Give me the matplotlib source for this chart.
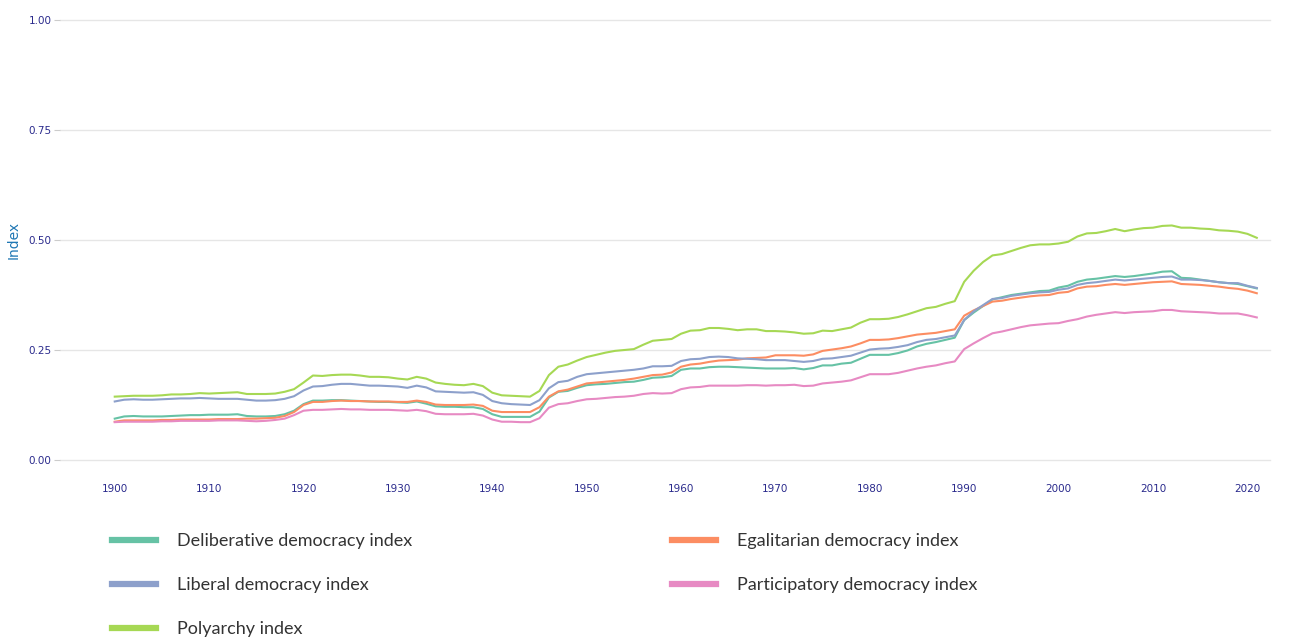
import numpy as np
import matplotlib
matplotlib.use("Agg")
import matplotlib.pyplot as plt
from matplotlib.lines import Line2D

# Años (1900-2021)
anios = list(range(1900, 2022))

# Valores, una lista por índice
deliberativo = [
    0.094, 0.099, 0.100, 0.099, 0.099, 0.099, 0.100, 0.101, 0.102, 0.102,
    0.103, 0.103, 0.103, 0.104, 0.100, 0.099, 0.099, 0.100, 0.104, 0.112,
    0.127, 0.135, 0.135, 0.136, 0.136, 0.135, 0.134, 0.133, 0.132, 0.132,
    0.131, 0.130, 0.133, 0.128, 0.122, 0.121, 0.121, 0.120, 0.120, 0.116,
    0.104, 0.098, 0.098, 0.098, 0.098, 0.110, 0.142, 0.155, 0.157, 0.164,
    0.170, 0.172, 0.173, 0.175, 0.177, 0.178, 0.182, 0.187, 0.188, 0.191,
    0.205, 0.208, 0.208, 0.211, 0.212, 0.212, 0.211, 0.210, 0.209, 0.208,
    0.208, 0.208, 0.209, 0.206, 0.209, 0.215, 0.215, 0.219, 0.221, 0.230,
    0.239, 0.239, 0.239, 0.243, 0.249, 0.258, 0.264, 0.268, 0.273, 0.278,
    0.318, 0.335, 0.350, 0.365, 0.370, 0.375, 0.378, 0.381, 0.384, 0.385,
    0.392, 0.396, 0.405, 0.410, 0.412, 0.415, 0.418, 0.416, 0.418, 0.421,
    0.424, 0.428, 0.429, 0.414, 0.413, 0.410, 0.407, 0.404, 0.402, 0.400,
    0.395, 0.390,
]

igualitario = [
    0.087, 0.090, 0.090, 0.090, 0.090, 0.091, 0.091, 0.092, 0.092, 0.092,
    0.092, 0.093, 0.093, 0.093, 0.094, 0.094, 0.095, 0.096, 0.100, 0.109,
    0.125, 0.132, 0.132, 0.134, 0.135, 0.134, 0.134, 0.133, 0.133, 0.133,
    0.132, 0.132, 0.135, 0.132, 0.126, 0.125, 0.125, 0.125, 0.126, 0.123,
    0.112, 0.109, 0.109, 0.109, 0.109, 0.120, 0.144, 0.156, 0.160, 0.167,
    0.174, 0.176, 0.178, 0.180, 0.182, 0.185, 0.189, 0.193, 0.194, 0.199,
    0.212, 0.217, 0.219, 0.223, 0.226, 0.227, 0.228, 0.231, 0.232, 0.233,
    0.238, 0.238, 0.238, 0.237, 0.240, 0.248, 0.251, 0.254, 0.258, 0.265,
    0.273, 0.273, 0.274, 0.277, 0.281, 0.285, 0.287, 0.289, 0.293, 0.297,
    0.328, 0.340, 0.350, 0.360, 0.362, 0.366, 0.369, 0.372, 0.374, 0.375,
    0.380, 0.382, 0.390, 0.394, 0.395, 0.398, 0.400, 0.398, 0.400, 0.402,
    0.404, 0.405, 0.406, 0.400, 0.399, 0.398, 0.396, 0.394, 0.391, 0.389,
    0.385, 0.379,
]

liberal = [
    0.133, 0.137, 0.138, 0.137, 0.137, 0.138, 0.139, 0.140, 0.140, 0.141,
    0.140, 0.139, 0.139, 0.139, 0.137, 0.135, 0.135, 0.136, 0.139, 0.145,
    0.158, 0.167, 0.168, 0.171, 0.173, 0.173, 0.171, 0.169, 0.169, 0.168,
    0.167, 0.164, 0.169, 0.165, 0.156, 0.155, 0.154, 0.153, 0.154, 0.148,
    0.134, 0.129, 0.127, 0.126, 0.125, 0.136, 0.163, 0.177, 0.180, 0.189,
    0.195, 0.197, 0.199, 0.201, 0.203, 0.205, 0.208, 0.213, 0.213, 0.214,
    0.225, 0.229, 0.230, 0.234, 0.235, 0.234, 0.231, 0.230, 0.229, 0.227,
    0.227, 0.227, 0.225, 0.223, 0.225, 0.230, 0.231, 0.234, 0.237, 0.244,
    0.251, 0.253, 0.254, 0.257, 0.261, 0.268, 0.273, 0.275, 0.279, 0.283,
    0.318, 0.338, 0.352, 0.366, 0.368, 0.373, 0.376, 0.379, 0.381, 0.382,
    0.387, 0.390, 0.398, 0.402, 0.404, 0.407, 0.410, 0.408, 0.410, 0.412,
    0.414, 0.416, 0.417, 0.410, 0.410, 0.409, 0.407, 0.404, 0.402, 0.402,
    0.396, 0.391,
]

participativo = [
    0.086, 0.087, 0.087, 0.087, 0.087, 0.088, 0.088, 0.089, 0.089, 0.089,
    0.089, 0.090, 0.090, 0.090, 0.089, 0.088, 0.089, 0.091, 0.094, 0.102,
    0.112, 0.114, 0.114, 0.115, 0.116, 0.115, 0.115, 0.114, 0.114, 0.114,
    0.113, 0.112, 0.114, 0.111, 0.105, 0.104, 0.104, 0.104, 0.105, 0.101,
    0.092, 0.087, 0.087, 0.086, 0.086, 0.095, 0.119, 0.127, 0.129, 0.134,
    0.138, 0.139, 0.141, 0.143, 0.144, 0.146, 0.150, 0.152, 0.151, 0.152,
    0.161, 0.165, 0.166, 0.169, 0.169, 0.169, 0.169, 0.170, 0.170, 0.169,
    0.170, 0.170, 0.171, 0.168, 0.169, 0.174, 0.176, 0.178, 0.181, 0.188,
    0.195, 0.195, 0.195, 0.198, 0.203, 0.208, 0.212, 0.215, 0.220, 0.224,
    0.252, 0.265, 0.277, 0.288, 0.292, 0.297, 0.302, 0.306, 0.308, 0.310,
    0.311, 0.316, 0.320, 0.326, 0.330, 0.333, 0.336, 0.334, 0.336, 0.337,
    0.338, 0.341, 0.341, 0.338, 0.337, 0.336, 0.335, 0.333, 0.333, 0.333,
    0.329, 0.324,
]

poliarquia = [
    0.144, 0.145, 0.146, 0.146, 0.146, 0.147, 0.149, 0.149, 0.150, 0.152,
    0.151, 0.152, 0.153, 0.154, 0.150, 0.150, 0.150, 0.151, 0.155, 0.161,
    0.176, 0.192, 0.191, 0.193, 0.194, 0.194, 0.192, 0.189, 0.189, 0.188,
    0.185, 0.183, 0.189, 0.185, 0.176, 0.173, 0.171, 0.170, 0.173, 0.168,
    0.153, 0.147, 0.146, 0.145, 0.144, 0.157, 0.193, 0.212, 0.217, 0.226,
    0.234, 0.239, 0.244, 0.248, 0.250, 0.252, 0.262, 0.271, 0.273, 0.275,
    0.287, 0.294, 0.295, 0.300, 0.300, 0.298, 0.295, 0.297, 0.297, 0.293,
    0.293, 0.292, 0.290, 0.287, 0.288, 0.294, 0.293, 0.297, 0.301, 0.312,
    0.320, 0.320, 0.321, 0.325, 0.331, 0.338, 0.345, 0.348, 0.355, 0.361,
    0.405, 0.430, 0.450, 0.465, 0.468, 0.475, 0.482, 0.488, 0.490, 0.490,
    0.492, 0.496, 0.508, 0.515, 0.516, 0.520, 0.525, 0.520, 0.524, 0.527,
    0.528, 0.532, 0.533, 0.528, 0.528, 0.526, 0.525, 0.522, 0.521, 0.519,
    0.514, 0.505,
]

# Series en orden de dibujo (alfabético)
series = [
    ("Deliberative democracy index", deliberativo, "#66c2a5"),
    ("Egalitarian democracy index", igualitario, "#fc8d62"),
    ("Liberal democracy index", liberal, "#8da0cb"),
    ("Participatory democracy index", participativo, "#e78ac3"),
    ("Polyarchy index", poliarquia, "#a6d854"),
]
# Orden de la leyenda (se llena por columnas)
orden_leyenda = [0, 2, 4, 1, 3]

ticks_x = list(range(1900, 2021, 10))
ticks_y = [0.0, 0.25, 0.5, 0.75, 1.0]

color_ticks = "#2a2a8c"

fig = plt.figure(figsize=(12.9, 6.37), dpi=100)
ax = fig.add_axes([60 / 1290, 1 - 460 / 637, 1210 / 1290, 440 / 637])

for nombre, valores, color in series:
    ax.plot(anios, valores, color=color, lw=1.5, label=nombre)

ax.set_xlim(1894.2, 2022.4)
ax.set_ylim(0, 1)
ax.set_xticks(ticks_x)
ax.set_yticks(ticks_y)
ax.set_yticklabels([f"{v:.2f}" for v in ticks_y])
ax.grid(axis="y", color="#e6e6e6", lw=1)
for gl in ax.get_ygridlines():
    gl.set_clip_on(False)
ax.set_axisbelow(True)
for lado in ax.spines.values():
    lado.set_visible(False)

ax.tick_params(axis="x", length=0, pad=17, labelsize=7.5, labelcolor=color_ticks)
ax.tick_params(axis="y", length=4, color="#cccccc", pad=2, labelsize=7.5,
               labelcolor=color_ticks)
ax.set_ylabel("Index", fontsize=10, color="#1f77b4", labelpad=6)

# Leyenda en dos columnas debajo del gráfico
manijas = [Line2D([], [], color=series[i][2], lw=4.5) for i in orden_leyenda]
textos = [series[i][0] for i in orden_leyenda]
fig.legend(manijas, textos, ncol=2, frameon=False,
           loc="upper left", bbox_to_anchor=(96 / 1290, 1 - 517 / 637),
           handlelength=2.45, handletextpad=1.15, columnspacing=14.35,
           labelspacing=1.55, prop={"family": "Lato", "size": 13},
           labelcolor="#333333")

fig.savefig("out.png", dpi=100)
